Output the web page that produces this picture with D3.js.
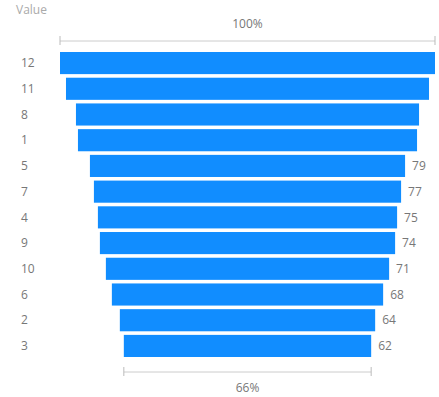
<!DOCTYPE html>
<html>
<head>
<meta charset="utf-8">
<script src="https://cdn.jsdelivr.net/npm/d3@7"></script>
<style>
  body { margin: 0; background: #fff; }
  text { font-family: "Segoe UI", "Open Sans", sans-serif; }
</style>
</head>
<body>
<div id="funnel"></div>
<script>
// funnel data, top to bottom
var categories = ["12", "11", "8", "1", "5", "7", "4", "9", "10", "6", "2", "3"];
var values = [94, 91, 86, 85, 79, 77, 75, 74, 71, 68, 64, 62];
var topLabel = "100%";
var bottomLabel = "66%";

var svgWidth = 439;
var svgHeight = 397;
var center = 247.5;
var fullWidth = 375;

var svg = d3.select("#funnel")
  .append("svg")
  .attr("width", svgWidth)
  .attr("height", svgHeight);

var data = categories.map(function(c, i) { return { cat: c, value: values[i] }; });

var yScale = d3.scaleBand()
  .domain(categories)
  .range([52, 357])
  .paddingInner(0.14);

var wScale = d3.scaleLinear()
  .domain([0, d3.max(values)])
  .range([0, fullWidth]);

// title at the top left
svg.append("text")
  .attr("x", 16)
  .attr("y", 14)
  .attr("font-size", "12px")
  .attr("fill", "#aaa")
  .text("Value");

// bars
svg.selectAll("rect.bar")
  .data(data)
  .enter()
  .append("rect")
  .attr("class", "bar")
  .attr("x", d => center - wScale(d.value) / 2)
  .attr("y", d => yScale(d.cat))
  .attr("width", d => wScale(d.value))
  .attr("height", yScale.bandwidth())
  .attr("fill", "#118DFF");

// category labels
svg.selectAll("text.cat")
  .data(data)
  .enter()
  .append("text")
  .attr("class", "cat")
  .attr("x", 21)
  .attr("y", d => yScale(d.cat) + yScale.bandwidth() / 2)
  .attr("dy", "0.35em")
  .attr("font-size", "12px")
  .attr("fill", "#777")
  .text(d => d.cat);

// data labels, only where they fit
svg.selectAll("text.val")
  .data(data.filter(d => center + wScale(d.value) / 2 + 22 < svgWidth))
  .enter()
  .append("text")
  .attr("class", "val")
  .attr("x", d => center + wScale(d.value) / 2 + 7)
  .attr("y", d => yScale(d.cat) + yScale.bandwidth() / 2)
  .attr("dy", "0.35em")
  .attr("font-size", "12px")
  .attr("fill", "#777")
  .text(d => d.value);

// conversion brackets
function bracket(val, lineY, label, labelY) {
  var half = wScale(val) / 2;
  var g = svg.append("g");
  g.append("line")
    .attr("x1", center - half).attr("x2", center + half)
    .attr("y1", lineY).attr("y2", lineY)
    .attr("stroke", "#ccc");
  [center - half, center + half].forEach(function(x) {
    g.append("line")
      .attr("x1", x).attr("x2", x)
      .attr("y1", lineY - 5).attr("y2", lineY + 4)
      .attr("stroke", "#bbb");
  });
  g.append("text")
    .attr("x", center)
    .attr("y", labelY)
    .attr("dy", "0.35em")
    .attr("text-anchor", "middle")
    .attr("font-size", "12px")
    .attr("fill", "#777")
    .text(label);
}

bracket(values[0], 41, topLabel, 24);
bracket(values[values.length - 1], 372, bottomLabel, 388);
</script>
</body>
</html>
